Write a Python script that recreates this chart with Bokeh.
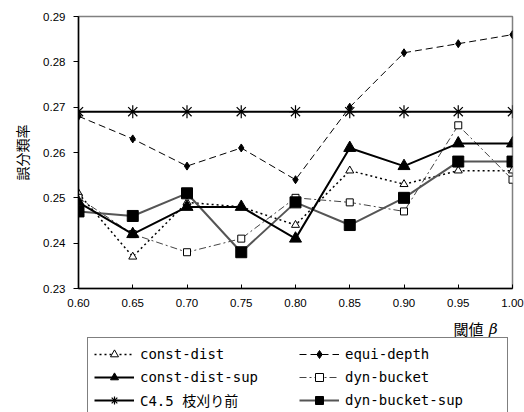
from bokeh.plotting import figure
from bokeh.layouts import column
from bokeh.models import Range1d, FixedTicker, PrintfTickFormatter, Legend, LegendItem, Label
from bokeh.embed import file_html
from bokeh.resources import INLINE

beta = [0.60, 0.65, 0.70, 0.75, 0.80, 0.85, 0.90, 0.95, 1.00]
const_dist = [0.251, 0.237, 0.249, 0.248, 0.244, 0.256, 0.253, 0.256, 0.256]
equi_depth = [0.268, 0.263, 0.257, 0.261, 0.254, 0.270, 0.282, 0.284, 0.286]
const_dist_sup = [0.249, 0.242, 0.248, 0.248, 0.241, 0.261, 0.257, 0.262, 0.262]
dyn_bucket = [0.250, 0.242, 0.238, 0.241, 0.250, 0.249, 0.247, 0.266, 0.254]
c45 = [0.269, 0.269, 0.269, 0.269, 0.269, 0.269, 0.269, 0.269, 0.269]
dyn_bucket_sup = [0.247, 0.246, 0.251, 0.238, 0.249, 0.244, 0.250, 0.258, 0.258]

x_ticks = [0.60, 0.65, 0.70, 0.75, 0.80, 0.85, 0.90, 0.95, 1.00]
y_ticks = [0.23, 0.24, 0.25, 0.26, 0.27, 0.28, 0.29]

styles = {
    "const-dist": dict(line=dict(line_color="black", line_width=1.5, line_dash="2 3"),
                       mark=dict(marker="triangle", size=8, fill_color="white", line_color="black", line_width=1)),
    "equi-depth": dict(line=dict(line_color="black", line_width=1, line_dash="7 4"),
                       mark=dict(marker="diamond", size=8, fill_color="black", line_color="black")),
    "dyn-bucket": dict(line=dict(line_color="#444444", line_width=1, line_dash="7 3 2 3"),
                       mark=dict(marker="square", size=7, fill_color="white", line_color="black", line_width=1)),
    "dyn-bucket-sup": dict(line=dict(line_color="#555555", line_width=2),
                           mark=dict(marker="square", size=11, fill_color="black", line_color="black")),
    "const-dist-sup": dict(line=dict(line_color="black", line_width=2),
                           mark=dict(marker="triangle", size=12, fill_color="black", line_color="black")),
    "C4.5 枝刈り前": dict(line=dict(line_color="black", line_width=2),
                       mark=dict(marker="asterisk", size=13, fill_color=None, line_color="black", line_width=1.2)),
}
series = {
    "const-dist": const_dist,
    "equi-depth": equi_depth,
    "dyn-bucket": dyn_bucket,
    "dyn-bucket-sup": dyn_bucket_sup,
    "const-dist-sup": const_dist_sup,
    "C4.5 枝刈り前": c45,
}
legend_order = ["const-dist", "const-dist-sup", "C4.5 枝刈り前", "equi-depth", "dyn-bucket", "dyn-bucket-sup"]

# ---- main chart ----
p = figure(width=524, height=316, output_backend="svg", toolbar_location=None,
           x_range=Range1d(0.60, 1.00), y_range=Range1d(0.23, 0.29),
           min_border_left=78, min_border_right=12, min_border_top=16, min_border_bottom=28)
p.grid.visible = False
p.outline_line_color = "#808080"
p.outline_line_width = 1.5

p.xaxis.ticker = FixedTicker(ticks=x_ticks)
p.yaxis.ticker = FixedTicker(ticks=y_ticks)
p.xaxis.formatter = PrintfTickFormatter(format="%.2f")
p.yaxis.formatter = PrintfTickFormatter(format="%.2f")
p.xaxis.minor_tick_line_color = None
p.yaxis.minor_tick_line_color = None
p.xaxis.major_tick_in = 4
p.xaxis.major_tick_out = 0
p.yaxis.major_tick_in = 0
p.yaxis.major_tick_out = 5
for ax in (p.xaxis, p.yaxis):
    ax.axis_line_color = "black"
    ax.axis_line_width = 1.5
    ax.major_tick_line_color = "black"
    ax.major_label_text_font = "Liberation Sans"
    ax.major_label_text_font_size = "11.5px"
    ax.major_label_text_color = "black"
p.xaxis.major_label_standoff = 10
p.yaxis.major_label_standoff = 8

p.yaxis.axis_label = "誤分類率"
p.yaxis.axis_label_text_font = "Noto Sans CJK JP"
p.yaxis.axis_label_text_font_size = "14px"
p.yaxis.axis_label_text_font_style = "normal"
p.yaxis.axis_label_text_color = "black"
p.yaxis.axis_label_standoff = 8

for name in ["const-dist", "equi-depth", "dyn-bucket", "dyn-bucket-sup", "const-dist-sup", "C4.5 枝刈り前"]:
    p.line(beta, series[name], **styles[name]["line"])
    p.scatter(beta, series[name], **styles[name]["mark"])

# ---- legend / axis title strip ----
q = figure(width=524, height=96, output_backend="svg", toolbar_location=None,
           x_range=Range1d(0, 524), y_range=Range1d(0, 96),
           x_axis_type=None, y_axis_type=None,
           min_border_left=0, min_border_right=0, min_border_top=0, min_border_bottom=0)
q.grid.visible = False
q.outline_line_color = None

items = []
for name in legend_order:
    rl = q.line(beta, series[name], visible=False, **styles[name]["line"])
    rm = q.scatter(beta, series[name], visible=False, **styles[name]["mark"])
    items.append(LegendItem(label=name, renderers=[rl, rm]))

legend = Legend(items=items, location=(9, -5), ncols=2,
                glyph_width=40, glyph_height=20, label_height=20, label_width=156,
                label_standoff=6, spacing=3, padding=6, margin=0,
                label_text_font="'DejaVu Sans Mono', 'Noto Sans CJK JP'",
                label_text_font_size="14px", label_text_color="black",
                border_line_color="black", border_line_width=1.2,
                background_fill_color="white", background_fill_alpha=1,
                inactive_fill_alpha=0)
q.add_layout(legend, "center")

q.add_layout(Label(x=489, y=84, text="閾値", text_align="right", text_baseline="middle",
                   text_font="Noto Sans CJK JP", text_font_size="15px", text_color="black"))
q.add_layout(Label(x=506, y=84, text="β", text_align="right", text_baseline="middle",
                   text_font="DejaVu Serif", text_font_style="italic", text_font_size="15px",
                   text_color="black"))

layout = column(p, q, spacing=0)
open("out.html", "w").write(file_html(layout, INLINE))
